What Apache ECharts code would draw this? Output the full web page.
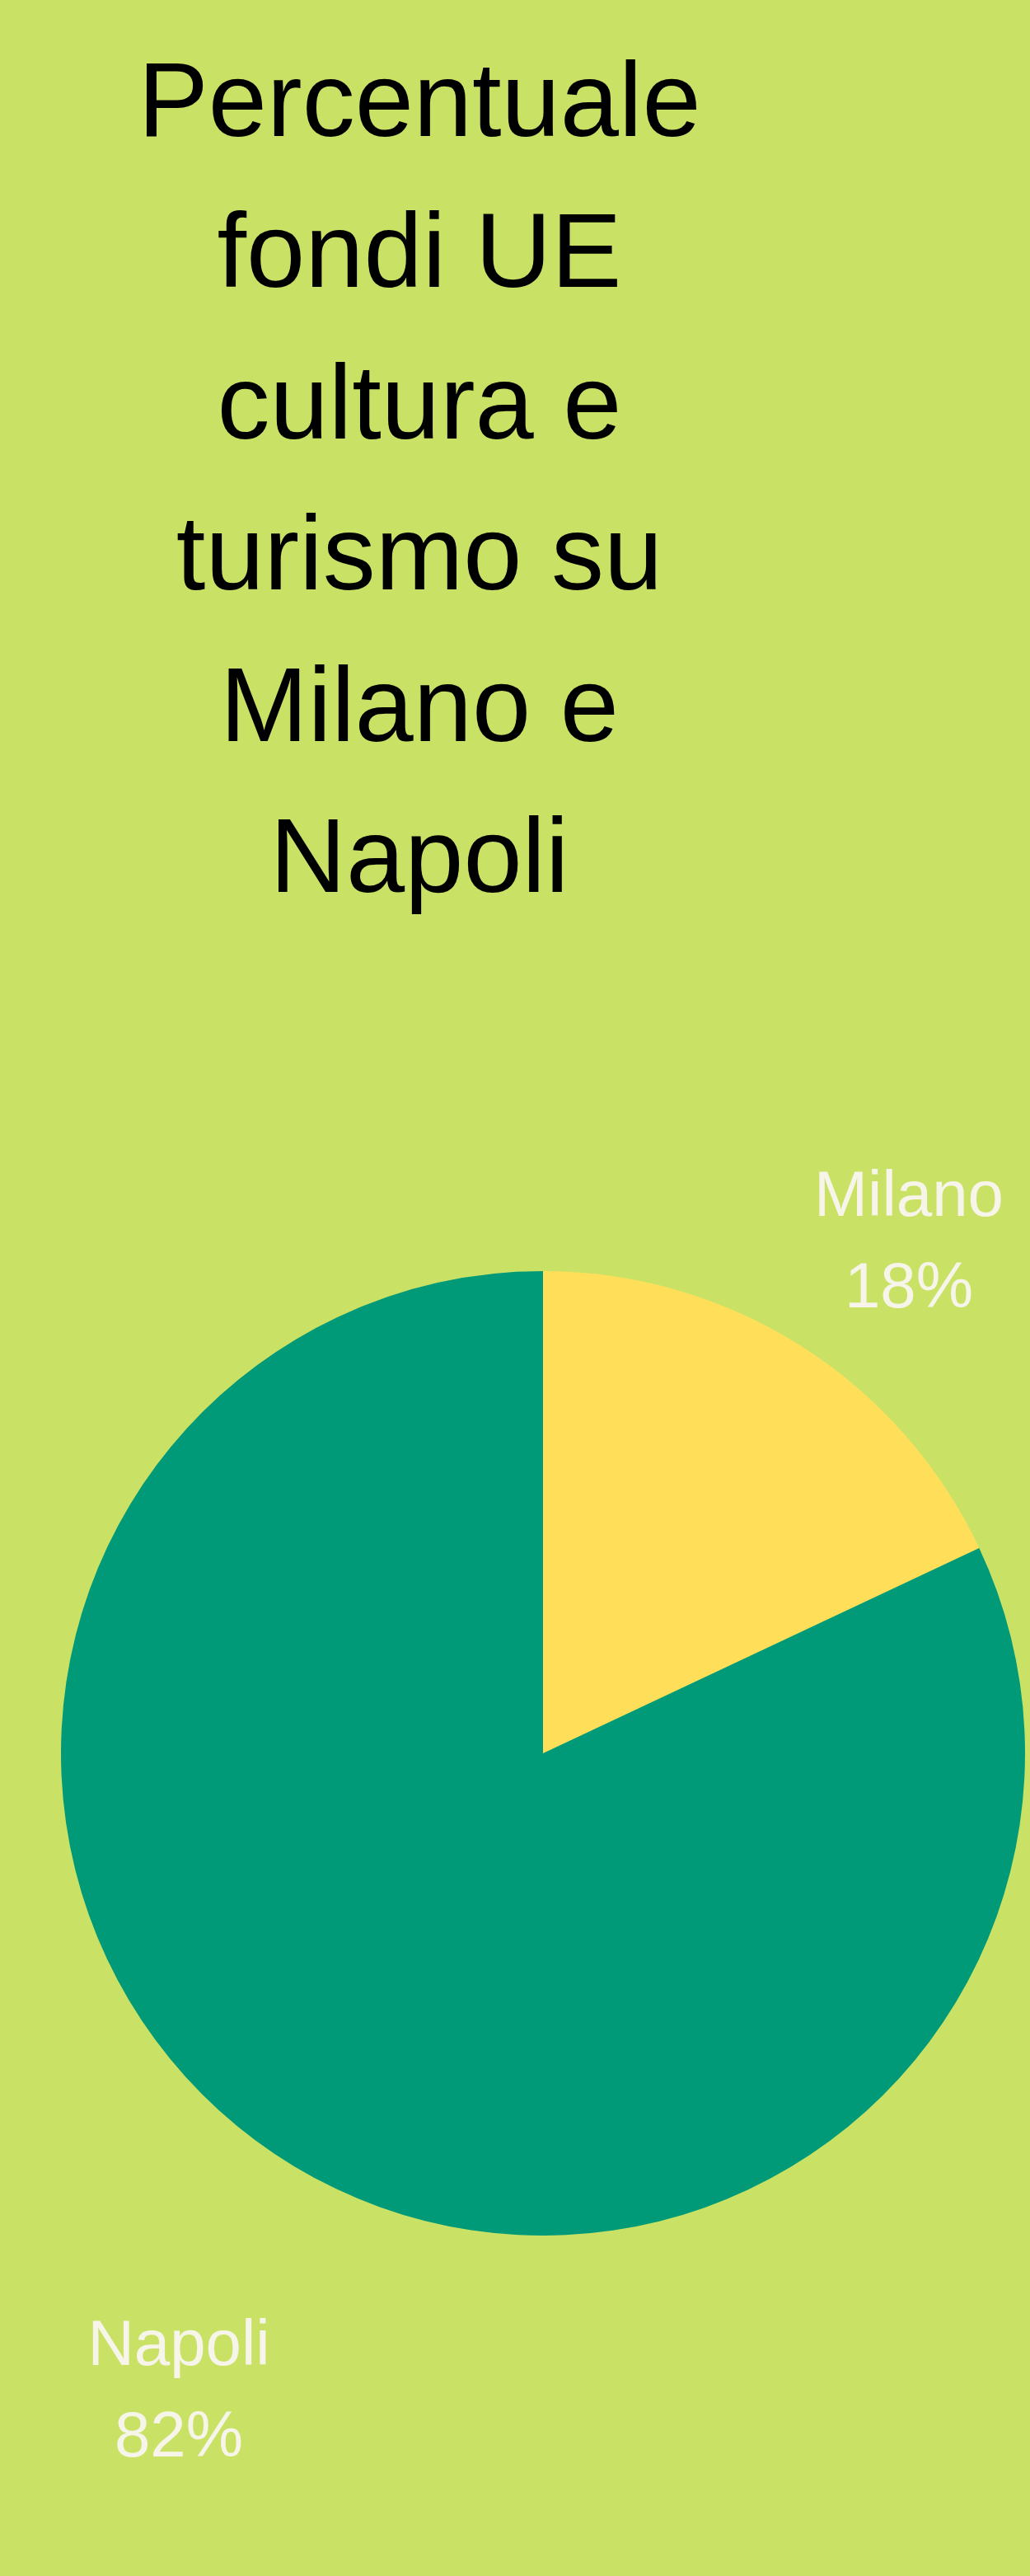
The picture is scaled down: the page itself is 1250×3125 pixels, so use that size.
<!DOCTYPE html>
<html>
<head>
<meta charset="utf-8">
<script src="https://cdn.jsdelivr.net/npm/echarts@6/dist/echarts.min.js"></script>
<style>
  html, body { margin: 0; padding: 0; background: #C9E266; }
  #chart { width: 1250px; height: 3125px; }
</style>
</head>
<body>
<div id="chart"></div>
<script>
// Data
const titleLines = ['Percentuale', 'fondi UE', 'cultura e', 'turismo su', 'Milano e', 'Napoli'];
const cities = ['Milano', 'Napoli'];
const shares = [18, 82];
const sliceColors = ['#FFDF5A', '#009A78'];

// Label anchor positions (layout only)
const labelAnchors = [[1103, 1509], [217, 2903]];

const chart = echarts.init(document.getElementById('chart'), null, { renderer: 'canvas' });

chart.setOption({
  backgroundColor: '#C9E266',
  animation: false,
  title: {
    text: titleLines.join('\n'),
    left: 509,
    top: 38,
    padding: 0,
    textAlign: 'center',
    textStyle: {
      fontFamily: 'Liberation Sans, Arial, sans-serif',
      fontSize: 128,
      fontWeight: 'normal',
      color: '#000000',
      lineHeight: 183.4
    }
  },
  series: [{
    type: 'pie',
    center: [659, 2127],
    radius: 585,
    startAngle: 90,
    clockwise: true,
    avoidLabelOverlap: false,
    emphasis: { disabled: true },
    itemStyle: { borderWidth: 0 },
    label: {
      show: true,
      position: 'outside',
      formatter: '{b}\n{c}%',
      fontFamily: 'Liberation Sans, Arial, sans-serif',
      fontSize: 78,
      lineHeight: 111,
      color: '#F7F5EA'
    },
    labelLine: { show: false },
    labelLayout: function (params) {
      const p = labelAnchors[params.dataIndex];
      return { x: p[0], y: p[1], align: 'center', verticalAlign: 'middle' };
    },
    data: cities.map((c, i) => ({
      name: c,
      value: shares[i],
      itemStyle: { color: sliceColors[i] }
    }))
  }]
});
</script>
</body>
</html>
